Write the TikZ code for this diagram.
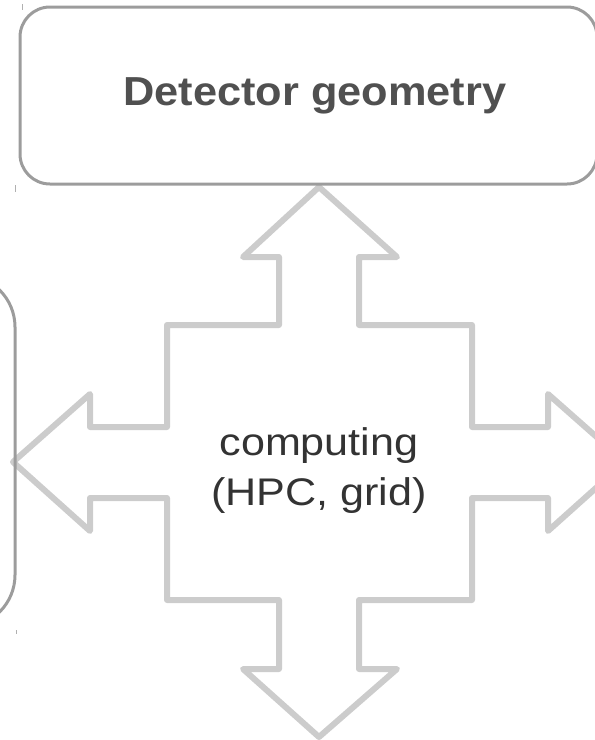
\documentclass[tikz,border=0pt]{standalone}
\usepackage{fontspec}
\setmainfont{Liberation Sans}
\newfontfamily\compfont[FakeStretch=1.12]{Liberation Sans}
\newfontfamily\geofont[FakeStretch=1.07]{Liberation Sans}
\definecolor{boxline}{HTML}{9C9C9C}
\definecolor{arrowline}{HTML}{CCCCCC}
\definecolor{geotext}{HTML}{505050}
\definecolor{comptext}{HTML}{333333}
\definecolor{tickcol}{HTML}{B0B0B0}
\tikzset{
  roundbox/.style={draw=boxline, line width=3pt, rounded corners=30pt, inner sep=0pt},
  quadarrow/.style={draw=arrowline, line width=6pt, line join=round, fill=white},
  geolabel/.style={font=\geofont\bfseries\fontsize{40.5}{48}\selectfont, text=geotext},
  complabel/.style={font=\compfont\fontsize{38.5}{50}\selectfont, text=comptext, align=center},
  tickmark/.style={draw=tickcol, line width=0.8pt}
}
\begin{document}
\begin{tikzpicture}[x=1pt,y=-1pt]
\useasboundingbox (0,0) rectangle (595,740);
% four-way arrow
\draw[quadarrow]
  (319,187) -- (397,257) -- (359,257) -- (359,325) -- (472,325) -- (472,427)
  -- (548,427) -- (548,394) -- (625,462) -- (548,531) -- (548,498)
  -- (472,498) -- (472,600) -- (359,600) -- (359,669) -- (397,669)
  -- (319,737) -- (243,669) -- (279,669) -- (279,600) -- (167,600)
  -- (167,498) -- (90,498) -- (90,531) -- (13,462) -- (90,394)
  -- (90,427) -- (167,427) -- (167,325) -- (279,325) -- (279,257)
  -- (243,257) -- cycle;
% boxes
\node[roundbox, minimum width=577pt, minimum height=177pt, geolabel] (geo) at (308.5,95.5) {\hspace*{13pt}Detector geometry};
\node[roundbox, rounded corners=52pt, minimum width=300pt, minimum height=352pt] (leftbox) at (-135,451) {};
% centre label
\node[complabel, anchor=base] (comp) at (319,505) {computing\\(HPC, grid)};
% small ticks
\draw[tickmark] (22,4) -- (22,10);
\draw[tickmark] (15,185) -- (15,192);
\draw[tickmark] (16,630) -- (16,634);
\end{tikzpicture}
\end{document}
